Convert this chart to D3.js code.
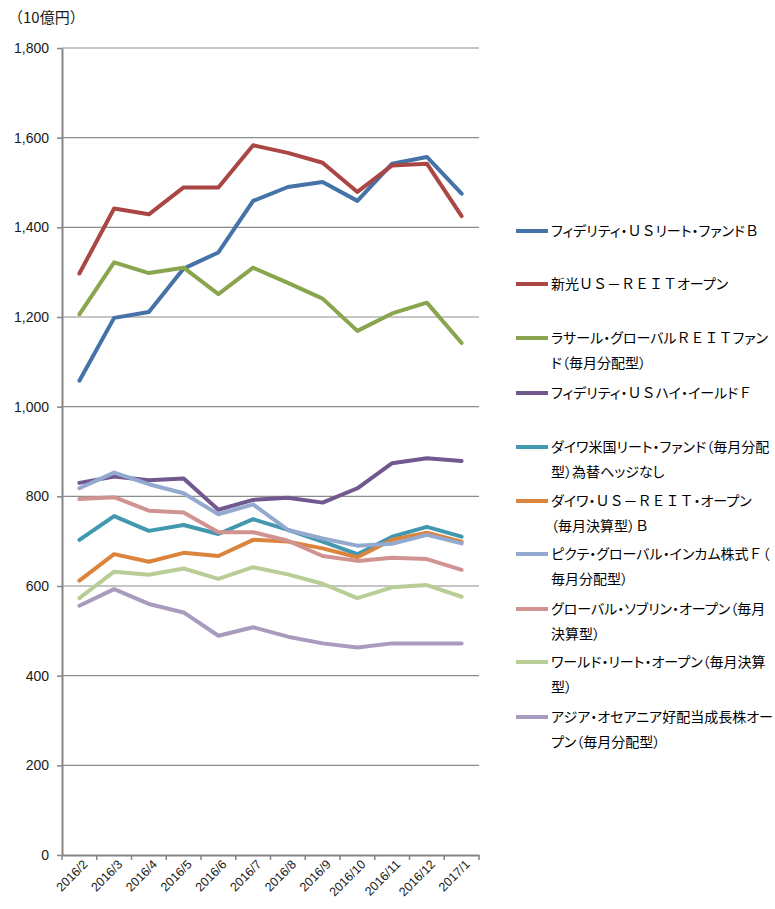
<!DOCTYPE html>
<html>
<head>
<meta charset="utf-8">
<script src="https://cdn.jsdelivr.net/npm/d3@7"></script>
<style>
  html, body { margin: 0; padding: 0; background: #fff; }
  svg { display: block; }
  .leg { font-family: "Noto Sans CJK JP", sans-serif; font-size: 14px; font-feature-settings: "palt"; fill: #000; }
  .leg .fw { font-feature-settings: normal; }
</style>
</head>
<body>
<svg id="chart" width="775" height="909"></svg>
<script>
const months = ["2016/2","2016/3","2016/4","2016/5","2016/6","2016/7","2016/8","2016/9","2016/10","2016/11","2016/12","2017/1"];
const yTicks = [0,200,400,600,800,1000,1200,1400,1600,1800];
const unitLabel = "（10億円）";

const fidelityReit = [1058,1198,1211,1308,1344,1459,1490,1501,1459,1542,1557,1475];
const shinkoReit   = [1297,1442,1429,1489,1489,1583,1566,1544,1479,1538,1542,1425];
const lasalleReit  = [1206,1322,1298,1310,1251,1310,1276,1241,1169,1208,1232,1142];
const fidelityHY   = [830,844,836,840,770,792,797,786,818,874,885,879];
const daiwaReitFund= [703,756,723,736,716,749,725,699,671,710,732,710];
const daiwaUsReit  = [612,671,654,674,667,703,699,684,664,703,719,699];
const pictetIncome = [818,853,827,807,760,782,725,706,690,694,714,695];
const sovereign    = [794,798,768,764,720,720,701,667,656,663,660,636];
const worldReit    = [573,632,625,639,616,642,626,605,573,597,602,576];
const asiaOceania  = [556,593,560,541,489,508,487,472,463,472,472,472];

const seriesNames = [
  ["フィデリティ・ＵＳリート・ファンドＢ"],
  ["新光ＵＳ－ＲＥＩＴオープン"],
  ["ラサール・グローバルＲＥＩＴファン","ド（毎月分配型）"],
  ["フィデリティ・ＵＳハイ・イールドＦ"],
  ["ダイワ米国リート・ファンド（毎月分配","型）為替ヘッジなし"],
  ["ダイワ・ＵＳ－ＲＥＩＴ・オープン","（毎月決算型）Ｂ"],
  ["ピクテ・グローバル・インカム株式Ｆ（","毎月分配型）"],
  ["グローバル・ソブリン・オープン（毎月","決算型）"],
  ["ワールド・リート・オープン（毎月決算","型）"],
  ["アジア・オセアニア好配当成長株オー","プン（毎月分配型）"]
];
const seriesValues = [fidelityReit, shinkoReit, lasalleReit, fidelityHY, daiwaReitFund, daiwaUsReit, pictetIncome, sovereign, worldReit, asiaOceania];
const seriesColors = ["#4572A7","#AA4643","#89A54E","#71588F","#4198AF","#DB843D","#93A9CF","#D19392","#B9CD96","#A99BBD"];

const svg = d3.select("#chart");
const plotL = 62, plotR = 479, plotT = 48, plotB = 855;

const x = d3.scaleBand().domain(months).range([plotL, plotR]);
const y = d3.scaleLinear().domain([0, 1800]).range([plotB, plotT]);

// gridlines
svg.append("g").selectAll("line").data(yTicks.filter(t => t > 0)).join("line")
  .attr("x1", plotL).attr("x2", plotR)
  .attr("y1", d => y(d)).attr("y2", d => y(d))
  .attr("stroke", "#8c8c8c").attr("stroke-width", 1.2);

// y axis
const yAxis = svg.append("g").attr("transform", `translate(${plotL},0)`)
  .call(d3.axisLeft(y).tickValues(yTicks).tickFormat(d3.format(",")).tickSize(5).tickSizeOuter(0));
yAxis.select(".domain").attr("stroke", "#868686").attr("stroke-width", 2);
yAxis.selectAll(".tick line").attr("stroke", "#868686").attr("stroke-width", 1.5);
yAxis.selectAll(".tick text").attr("x", -13).attr("fill", "#1a1a1a")
  .style("font-family", "'Liberation Sans', Arial, sans-serif").style("font-size", "14px");

// x axis
const xAxis = svg.append("g").attr("transform", `translate(0,${plotB})`)
  .call(d3.axisBottom(x).tickSize(0).tickSizeOuter(0));
xAxis.select(".domain").attr("stroke", "#868686").attr("stroke-width", 2);
const bounds = months.map(m => x(m)).concat([x(months[months.length-1]) + x.bandwidth()]);
xAxis.selectAll("line.bt").data(bounds).join("line").attr("class","bt")
  .attr("x1", d => d).attr("x2", d => d).attr("y1", 0).attr("y2", 5)
  .attr("stroke", "#868686").attr("stroke-width", 1.5);
xAxis.selectAll(".tick text")
  .attr("transform", "translate(6,7) rotate(-45)")
  .attr("text-anchor", "end").attr("dy", "0.35em").attr("y", 0).attr("x", 0)
  .attr("fill", "#1a1a1a")
  .style("font-family", "'Liberation Sans', Arial, sans-serif").style("font-size", "12.5px");

// unit label
svg.append("text").attr("x", 8).attr("y", 23).text(unitLabel)
  .style("font-family", "'Noto Sans CJK JP', sans-serif").style("font-size", "15px").attr("fill", "#1a1a1a");

// lines
const line = d3.line().x((d, i) => x(months[i]) + x.bandwidth() / 2).y(d => y(d));
svg.append("g").selectAll("path").data(seriesValues).join("path")
  .attr("d", d => line(d))
  .attr("fill", "none")
  .attr("stroke", (d, i) => seriesColors[i])
  .attr("stroke-width", 4)
  .attr("stroke-linejoin", "round")
  .attr("stroke-linecap", "round");

// legend
const legendY = [231, 284, 338, 393, 447, 501, 554, 609, 662, 717];
const lg = svg.append("g");
seriesNames.forEach((lines, i) => {
  const g = lg.append("g").attr("transform", `translate(0,${legendY[i]})`);
  g.append("line").attr("x1", 516).attr("x2", 548).attr("y1", 0).attr("y2", 0)
    .attr("stroke", seriesColors[i]).attr("stroke-width", 4);
  lines.forEach((t, j) => {
    const txt = g.append("text").attr("class", "leg").attr("x", 551).attr("y", j * 24.5)
      .attr("dy", "0.36em");
    t.split(/([Ａ-Ｚ－]+)/).filter(s => s.length).forEach(s => {
      txt.append("tspan").attr("class", /^[Ａ-Ｚ－]+$/.test(s) ? "fw" : null).text(s);
    });
  });
});
</script>
</body>
</html>
